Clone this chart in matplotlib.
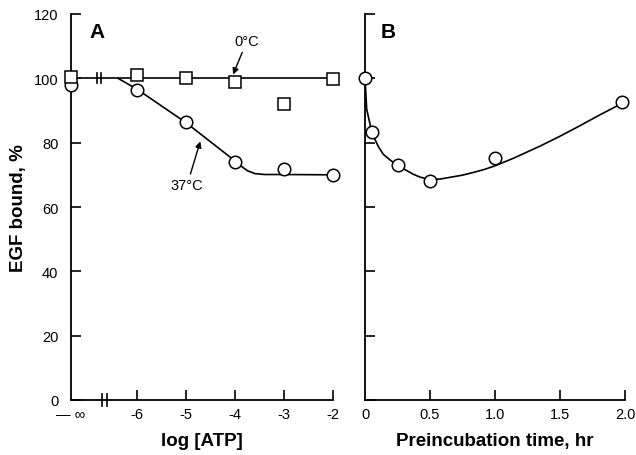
import matplotlib
matplotlib.use("Agg")
import matplotlib.pyplot as plt

plt.rcParams['font.family'] = ['Liberation Sans', 'DejaVu Sans']

# ---------------- data ----------------
# Panel A: log[ATP]; first position stands for -infinity
ninf_pos = -7.35
logatp = [ninf_pos, -6, -5, -4, -3, -2]
bound_0C = [100.5, 100.9, 100.2, 99.0, 92.0, 99.7]
bound_37C = [98.0, 96.4, 86.4, 74.1, 71.7, 69.9]

# fitted curves
fit0_x = [ninf_pos, -2]
fit0_y = [100, 100]
fit37_x = [-6.39, -6.0, -5.0, -4.1, -3.9, -3.75, -3.6, -3.4, -3.0, -2.0]
fit37_y = [100, 96.6, 86.2, 75.5, 73.0, 71.3, 70.4, 70.1, 70.1, 70.0]

xticks_A = [ninf_pos, -6, -5, -4, -3, -2]
xticklabels_A = ['— ∞', '-6', '-5', '-4', '-3', '-2']
yticks = [0, 20, 40, 60, 80, 100, 120]

# Panel B: preincubation time
time_hr = [0.0, 0.054, 0.25, 0.5, 1.0, 1.98]
bound_B = [100.0, 83.2, 73.0, 68.1, 75.2, 92.5]
fitB_x = [0.0, 0.013, 0.054, 0.1, 0.14, 0.2, 0.25, 0.3, 0.37, 0.43, 0.5, 0.58, 0.65,
          0.75, 0.83, 0.92, 1.0, 1.15, 1.35, 1.5, 1.65, 1.8, 1.98]
fitB_y = [100.0, 90.4, 83.0, 79.0, 76.4, 74.4, 73.0, 71.8, 70.2, 69.2, 68.6, 68.7, 69.2,
          69.9, 70.7, 71.7, 72.8, 75.3, 79.0, 82.0, 85.2, 88.5, 92.3]
xticks_B = [0, 0.5, 1.0, 1.5, 2.0]
xticklabels_B = ['0', '0.5', '1.0', '1.5', '2.0']

# ---------------- figure ----------------
W, H = 636, 456
fig = plt.figure(figsize=(W / 100, H / 100), dpi=100)

def frac(l, r, t, b):
    return [l / W, 1 - b / H, (r - l) / W, (b - t) / H]

axA = fig.add_axes(frac(71, 333, 15, 401))
axB = fig.add_axes(frac(365, 625, 15, 401))

lw = 1.2
mk_c = dict(marker='o', ms=9, mfc='white', mec='black', mew=1.1, ls='none', clip_on=False, zorder=5)
mk_s = dict(marker='s', ms=8, mfc='white', mec='black', mew=1.1, ls='none', clip_on=False, zorder=6)

for ax in (axA, axB):
    for s in ('top', 'right'):
        ax.spines[s].set_visible(False)
    for s in ('left', 'bottom'):
        ax.spines[s].set_linewidth(1.3)
    ax.set_ylim(0, 120)
    ax.set_yticks(yticks)
    ax.tick_params(direction='in', length=7, width=1.2, labelsize=10.5)
    ax.tick_params(axis='y', pad=9)
    ax.tick_params(axis='x', pad=5)

# Panel A
axA.set_xlim(ninf_pos, -2)
axA.plot(fit0_x, fit0_y, color='black', lw=lw, zorder=3)
axA.plot(fit37_x, fit37_y, color='black', lw=lw, zorder=3)
axA.plot(logatp, bound_37C, **mk_c)
axA.plot(logatp, bound_0C, **mk_s)
axA.set_xticks(xticks_A)
axA.set_xticklabels(xticklabels_A)
axA.get_xticklines()[0].set_visible(False)
axA.get_xticklines()[1].set_visible(False)

# break marks on line and axis
for bx in (-6.82, -6.735):
    axA.plot([bx, bx], [98.4, 101.6], color='black', lw=1.2, zorder=4)
for bx in (-6.72, -6.62):
    axA.plot([bx, bx], [-1.9, 1.9], color='black', lw=1.2, clip_on=False, zorder=4)

axA.set_xlabel('log [ATP]', fontsize=13.5, fontweight='bold', labelpad=8)
axA.set_ylabel('EGF bound, %', fontsize=13.5, fontweight='bold', labelpad=5)
axA.text(-6.82, 114.6, 'A', fontsize=15, fontweight='bold', ha='center', va='center')

axA.annotate('0°C', xy=(-4.04, 101.2), xytext=(-3.76, 111.5), fontsize=10.5,
             ha='center', va='center',
             arrowprops=dict(arrowstyle='-|>', color='black', lw=1.0, mutation_scale=9,
                             shrinkA=1, shrinkB=0))
axA.annotate('37°C', xy=(-4.71, 80.4), xytext=(-4.98, 66.8), fontsize=10.5,
             ha='center', va='center',
             arrowprops=dict(arrowstyle='-|>', color='black', lw=1.0, mutation_scale=9,
                             shrinkA=1, shrinkB=0))

# Panel B
axB.set_xlim(0, 2.0)
axB.plot(fitB_x, fitB_y, color='black', lw=lw, zorder=3)
axB.plot(time_hr, bound_B, **mk_c)
axB.set_xticks(xticks_B)
axB.set_xticklabels(xticklabels_B)
axB.set_yticklabels([])
axB.get_xticklines()[0].set_visible(False)
axB.set_xlabel('Preincubation time, hr', fontsize=13.5, fontweight='bold', labelpad=8)
axB.text(0.177, 114.6, 'B', fontsize=15, fontweight='bold', ha='center', va='center')

fig.savefig('out.png', dpi=100)
